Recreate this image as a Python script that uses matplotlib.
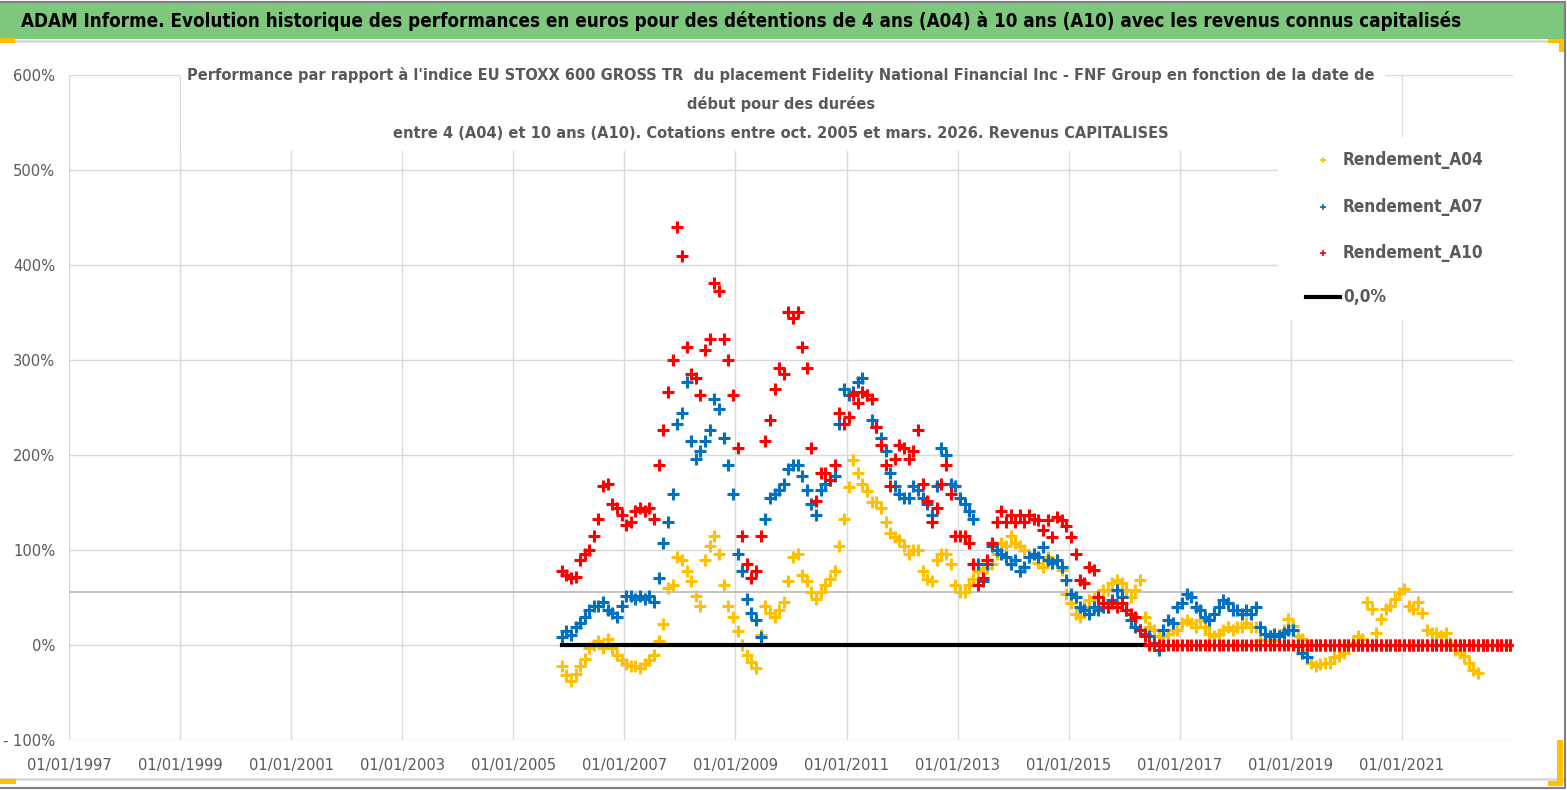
import datetime as dt
import matplotlib
matplotlib.use("Agg")
import matplotlib.pyplot as plt
import matplotlib.dates as mdates
from matplotlib.patches import Rectangle
from matplotlib.lines import Line2D
from matplotlib.ticker import FuncFormatter
import pandas as pd

# condensed face, closest to the narrow Excel font
plt.rcParams['font.family'] = ['DejaVu Sans']
plt.rcParams['font.stretch'] = 'condensed'

W, H = 1567, 790
GREY = '#595959'

# monthly readings (in %), first reading = Oct. 2005
a04 = [-22, -32, -38, -30, -22, -15, -3, 0, 4, -3,
       6, -3, -11, -16, -20, -22, -22, -24, -20, -16,
       -11, 4, 22, 60, 63, 93, 89, 78, 67, 52,
       41, 89, 104, 115, 96, 63, 41, 30, 15, 0,
       -11, -18, -24, 11, 41, 34, 30, 37, 45, 67,
       93, 96, 74, 67, 56, 48, 56, 63, 70, 78,
       104, 133, 166, 195, 181, 170, 162, 151, 151, 144,
       130, 118, 114, 111, 104, 96, 100, 100, 78, 70,
       67, 89, 96, 96, 85, 63, 56, 56, 63, 70,
       78, 81, 81, 85, 96, 107, 104, 115, 107, 104,
       100, 93, 96, 86, 82, 93, 86, 89, 79, 54,
       44, 33, 30, 40, 47, 51, 51, 58, 58, 65,
       68, 65, 58, 51, 58, 68, 30, 19, 16, 9,
       9, 12, 16, 16, 23, 26, 23, 19, 26, 19,
       12, 9, 12, 16, 19, 16, 19, 19, 23, 19,
       19, 5, 5, 9, 5, 11, 16, 27, 20, 9,
       6, -5, -19, -22, -20, -19, -19, -13, -12, -8,
       -1, 2, 9, 6, 45, 38, 13, 27, 38, 41,
       48, 55, 59, 41, 38, 45, 34, 16, 13, 13,
       9, 13, 2, -5, -8, -12, -19, -26, -29]
a07 = [8, 15, 11, 19, 23, 30, 37, 41, 41, 45,
       37, 34, 30, 41, 52, 52, 48, 52, 48, 52,
       45, 71, 107, 130, 159, 233, 244, 277, 215, 196,
       204, 215, 226, 259, 248, 218, 189, 159, 96, 78,
       48, 34, 26, 8, 133, 155, 159, 163, 170, 185,
       189, 189, 178, 163, 148, 137, 163, 170, 174, 178,
       233, 270, 263, 266, 277, 281, 263, 237, 229, 218,
       204, 181, 167, 159, 155, 155, 167, 163, 155, 148,
       137, 167, 207, 200, 170, 167, 155, 148, 141, 133,
       85, 67, 85, 104, 100, 96, 93, 85, 89, 78,
       82, 93, 96, 93, 103, 89, 86, 89, 82, 68,
       54, 51, 40, 37, 33, 40, 37, 40, 40, 47,
       58, 51, 37, 26, 19, 16, 12, 9, 2, -5,
       16, 26, 23, 40, 44, 54, 51, 40, 37, 30,
       26, 33, 40, 47, 44, 37, 37, 33, 37, 33,
       40, 19, 12, 9, 12, 9, 13, 16, 16, -1,
       -8, -13]
a10 = [78, 74, 71, 72, 89, 96, 100, 115, 133, 167,
       170, 148, 144, 137, 126, 130, 141, 144, 141, 144,
       133, 189, 226, 266, 300, 440, 410, 314, 285, 281,
       263, 311, 322, 381, 373, 322, 300, 263, 207, 115,
       85, 71, 78, 115, 215, 237, 270, 292, 285, 351,
       344, 351, 314, 292, 207, 152, 181, 181, 174, 189,
       244, 233, 240, 263, 255, 266, 263, 259, 229, 211,
       189, 167, 196, 211, 207, 196, 204, 226, 170, 152,
       130, 144, 170, 189, 159, 115, 115, 115, 107, 85,
       63, 71, 89, 107, 130, 141, 130, 137, 130, 137,
       130, 137, 133, 132, 121, 132, 114, 135, 132, 125,
       114, 96, 68, 65, 82, 79, 51, 44, 40, 44,
       40, 44, 37, 33, 30, 16, 9]
n_months = 207  # rows of the sheet, up to end of 2022 (value 0 once the period is incomplete)
a04 = a04 + [0] * (n_months - len(a04))
a07_full = a07 + [0] * (n_months - len(a07))
a10_full = a10 + [0] * (n_months - len(a10))
dates = pd.date_range('2005-10-15', periods=n_months, freq='MS') + pd.Timedelta(days=14)

series = [('Rendement_A04', a04, '#FFC000'),
          ('Rendement_A07', a07_full, '#0070C0'),
          ('Rendement_A10', a10_full, '#FF0000')]
year_ticks = list(range(1997, 2022, 2))
y_ticks = list(range(-100, 601, 100))

header = ("ADAM Informe. Evolution historique des performances en euros pour des détentions "
          "de 4 ans (A04) à 10 ans (A10) avec les revenus connus capitalisés")
title_lines = ["Performance par rapport à l'indice EU STOXX 600 GROSS TR  du placement Fidelity "
               "National Financial Inc - FNF Group en fonction de la date de",
               "début pour des durées",
               "entre 4 (A04) et 10 ans (A10). Cotations entre oct. 2005 et mars. 2026. Revenus CAPITALISES"]


def fx(px):
    return px / W


def fy(py):
    return 1 - py / H


fig = plt.figure(figsize=(W / 100, H / 100), dpi=100)
ax = fig.add_axes([fx(69), fy(740), fx(1513) - fx(69), fy(75) - fy(740)])

# scatter of '+' markers, A10 and the zero line last as in the sheet
mk = dict(linestyle='none', marker='+', markersize=9, mew=2.2)
for name, vals, col in series[:2]:
    ax.plot(dates, vals, color=col, zorder=3, **mk)
ax.plot([dates[0], dates[len(a10) - 1]], [0, 0], color='black', lw=3, zorder=4)
name, vals, col = series[2]
ax.plot(dates, vals, color=col, zorder=5, **mk)

ax.axhline(56, color='#BFBFBF', lw=1.3, zorder=1)
ax.set_xlim(dt.date(1997, 1, 1), dt.date(2023, 1, 1))
ax.set_ylim(-100, 600)
ax.set_xticks([dt.date(y, 1, 1) for y in year_ticks])
ax.xaxis.set_major_formatter(mdates.DateFormatter('%d/%m/%Y'))
ax.set_yticks(y_ticks)
ax.yaxis.set_major_formatter(FuncFormatter(lambda v, p: ('- %d%%' % -v) if v < 0 else '%d%%' % v))
ax.grid(True, color='#D9D9D9', lw=1)
ax.set_axisbelow(True)
for s in ax.spines.values():
    s.set_visible(False)
ax.tick_params(length=0, labelcolor=GREY, labelsize=11.8)
ax.tick_params(axis='x', pad=13)
ax.tick_params(axis='y', pad=10)

# header bar
fig.add_artist(Rectangle((0, fy(39)), fx(1564), fy(3) - fy(39), transform=fig.transFigure,
                         facecolor='#7DC87D', edgecolor='none', zorder=1))
fig.add_artist(Line2D([0, fx(1562)], [fy(41), fy(41)], transform=fig.transFigure, color='#D9D9D9', lw=2))
fig.add_artist(Line2D([0, fx(1562)], [fy(779), fy(779)], transform=fig.transFigure, color='#D9D9D9', lw=2))
# outer frame
fig.add_artist(Line2D([0, fx(1565), fx(1565), 0], [fy(1.5), fy(1.5), fy(787.5), fy(787.5)],
                      transform=fig.transFigure, color='#7F7F7F', lw=1.5))
# white boxes behind title and legend
fig.add_artist(Rectangle((fx(181), fy(151)), fx(1385) - fx(181), fy(55) - fy(151),
                         transform=fig.transFigure, facecolor='white', edgecolor='none', zorder=2))
fig.add_artist(Rectangle((fx(1278), fy(320)), fx(1514) - fx(1278), fy(137) - fy(320),
                         transform=fig.transFigure, facecolor='white', edgecolor='none', zorder=2))
# selection handles
for (x0, y0, x1, y1) in [(0, 38, 15, 43), (1548, 39, 1564, 43), (1559, 39, 1564, 52),
                         (0, 779, 16, 784), (1557, 740, 1563, 786), (1548, 781, 1563, 786)]:
    fig.add_artist(Rectangle((fx(x0), fy(y1)), fx(x1) - fx(x0), fy(y0) - fy(y1),
                             transform=fig.transFigure, facecolor='#FFC000', edgecolor='none', zorder=6))

texts = []
t = fig.text(fx(741), fy(21), header, ha='center', va='center', fontsize=17,
             fontweight='bold', color='black', zorder=4)
texts.append((t, 1438))
title_txt = []
for line, ypx in zip(title_lines, [75, 104, 133]):
    t = fig.text(fx(781), fy(ypx), line, ha='center', va='center', fontsize=14,
                 fontweight='bold', color=GREY, zorder=4)
    title_txt.append(t)
texts.append((title_txt[0], 1187))

# legend
leg_txt = []
for (name, vals, col), ypx in zip(series, [160, 207, 253]):
    fig.add_artist(Line2D([fx(1323)], [fy(ypx)], marker='+', markersize=5, mew=1.2, color=col,
                          transform=fig.transFigure, zorder=4))
    t = fig.text(fx(1343), fy(ypx), name, ha='left', va='center', fontsize=15,
                 fontweight='bold', color=GREY, zorder=4)
    leg_txt.append(t)
texts.append((leg_txt[0], 141))
fig.add_artist(Line2D([fx(1306), fx(1340)], [fy(297), fy(297)], color='black', lw=3,
                      transform=fig.transFigure, zorder=4))
leg_txt.append(fig.text(fx(1343), fy(297), '0,0%', ha='left', va='center', fontsize=15,
                        fontweight='bold', color=GREY, zorder=4))

# fit text widths to the reference, same size for the lines of one block
fig.canvas.draw()
r = fig.canvas.get_renderer()
for t, wpx in texts:
    w = t.get_window_extent(r).width
    t.set_fontsize(min(t.get_fontsize() * wpx / w, 22))
for t in title_txt[1:]:
    t.set_fontsize(title_txt[0].get_fontsize())
for t in leg_txt[1:]:
    t.set_fontsize(leg_txt[0].get_fontsize())

fig.savefig('out.png', dpi=100, facecolor='white')
